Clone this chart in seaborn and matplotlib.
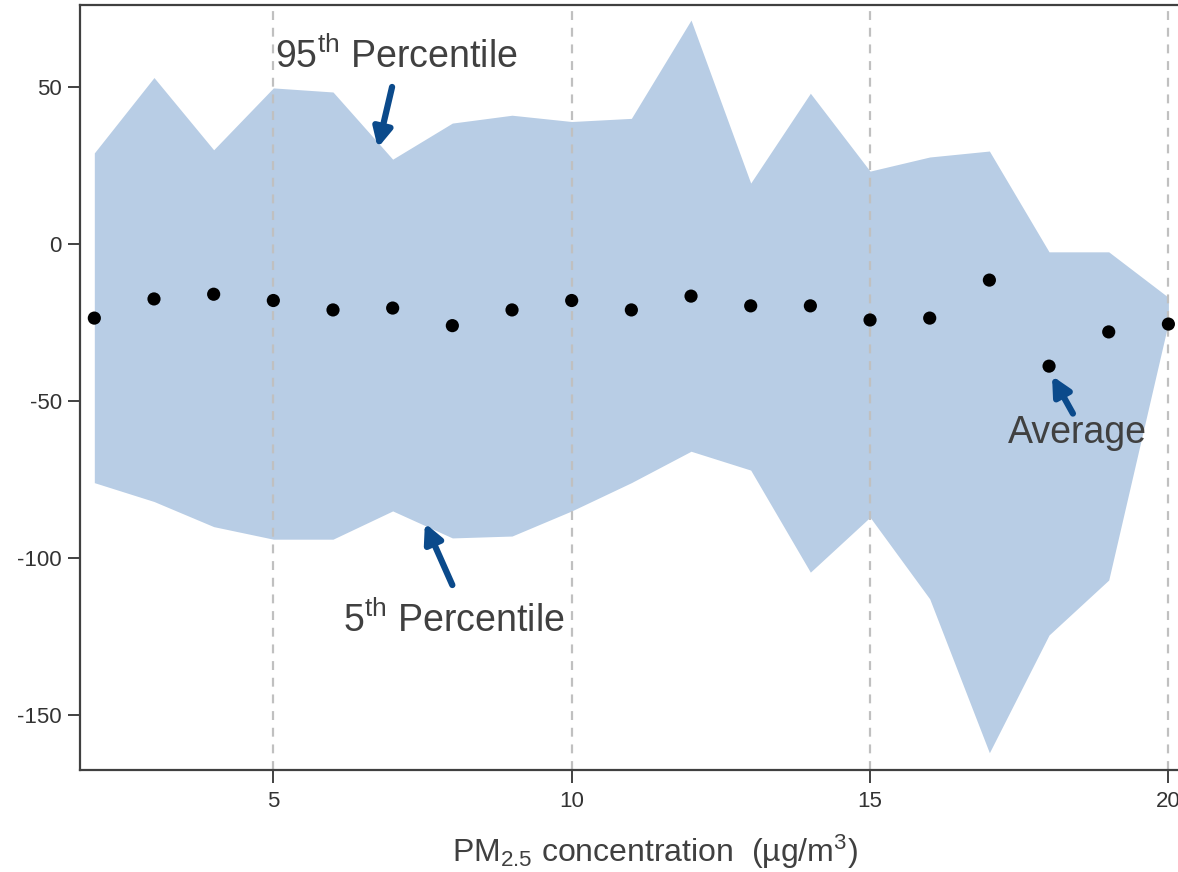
import numpy as np
import pandas as pd
import matplotlib
matplotlib.use("Agg")
import matplotlib.pyplot as plt
import seaborn as sns

# values
pm25 = [2, 3, 4, 5, 6, 7, 8, 9, 10, 11, 12, 13, 14, 15, 16, 17, 18, 19, 20]
p95 = [29, 53, 30, 49.7, 48.4, 27, 38.5, 41, 39, 40, 71.3, 19.4, 48, 23.2, 27.7, 29.6, -2.5, -2.5, -17]
p5 = [-76, -82, -90, -94, -94, -85, -93.6, -93, -85, -76, -66, -72, -104.5, -87, -113, -162, -124.5, -107, -25]
avg = [-23.6, -17.5, -16, -18, -21, -20.4, -26, -21, -18, -21, -16.6, -19.7, -19.7, -24.2, -23.6, -11.5, -38.9, -28, -25.5]

df = pd.DataFrame({"pm25": pm25, "p95": p95, "p5": p5, "avg": avg})

sns.set_style("ticks")
plt.rcParams["font.family"] = ["Liberation Sans", "DejaVu Sans"]
plt.rcParams["mathtext.default"] = "regular"
plt.rcParams["axes.unicode_minus"] = False

fig = plt.figure(figsize=(11.78, 8.72), dpi=100)
ax = fig.add_axes([80 / 1178, 102 / 872, 1106 / 1178, 765 / 872])

band = "#b8cde5"
ax.fill_between(df["pm25"], df["p5"], df["p95"], color=band, lw=0, zorder=1)
sns.scatterplot(data=df, x="pm25", y="avg", color="black", s=90, edgecolor="none",
                ax=ax, zorder=3, clip_on=False)

for xv in [5, 10, 15, 20]:
    ax.axvline(xv, color="#c0c0c0", ls=(0, (4, 3.5)), lw=1.6, zorder=2)

ax.set_xlim(1.76, 20.295)
ax.set_ylim(-167.5, 76.1)
ax.set_xticks([5, 10, 15, 20])
ax.set_yticks([-150, -100, -50, 0, 50])
ax.tick_params(direction="out", length=9, width=1.3, colors="#333333",
               labelsize=16, labelcolor="#333333")
ax.tick_params(axis="y", pad=4)
ax.tick_params(axis="x", pad=6)
for s in ax.spines.values():
    s.set_color("#404040")
    s.set_linewidth(1.6)

ax.set_ylabel("")
ax.set_xlabel("PM$_{2.5}$ concentration  (µg/m$^{3}$)", fontsize=23, color="#404040")
ax.xaxis.set_label_coords(0.52, -0.082)

txt = "#404040"
arrow = dict(arrowstyle="-|>", lw=4.5, color="#0b4a8b", mutation_scale=28, shrinkA=0, shrinkB=0)
ax.text(5.03, 56, "95$^{th}$ Percentile", fontsize=27, color=txt, va="baseline")
ax.annotate("", xy=(6.75, 30.6), xytext=(6.99, 50), arrowprops=arrow)
ax.text(6.17, -123.6, "5$^{th}$ Percentile", fontsize=27, color=txt, va="baseline")
ax.annotate("", xy=(7.54, -88.9), xytext=(8.0, -108.6), arrowprops=arrow)
ax.text(17.31, -63.4, "Average", fontsize=27, color=txt, va="baseline")
ax.annotate("", xy=(18.05, -42), xytext=(18.40, -54), arrowprops=arrow)

fig.savefig("out.png", dpi=100)
